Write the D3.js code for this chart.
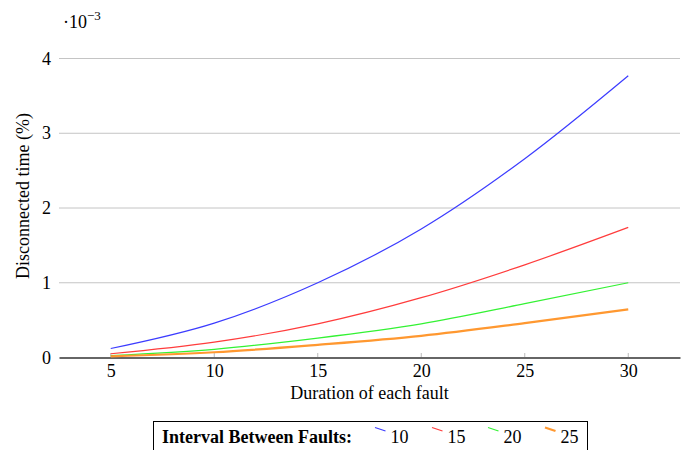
<!DOCTYPE html>
<html><head><meta charset="utf-8">
<script src="https://cdn.jsdelivr.net/npm/d3@7"></script>
<style>body{margin:0;background:#fff}svg{display:block}</style>
</head><body>
<svg id="c" width="692" height="450" font-family="Liberation Serif"></svg>
<script>
const durations = [5, 10, 15, 20, 25, 30];
const interval10 = [0.12, 0.46, 1.00, 1.72, 2.66, 3.77];
const interval15 = [0.05, 0.205, 0.45, 0.80, 1.24, 1.74];
const interval20 = [0.027, 0.11, 0.26, 0.45, 0.72, 1.00];
const interval25 = [0.015, 0.07, 0.17, 0.29, 0.46, 0.645];
const seriesNames = ["10", "15", "20", "25"];
const yTicks = [0, 1, 2, 3, 4];
const xTicks = [5, 10, 15, 20, 25, 30];

const series = [
  {name: seriesNames[0], values: interval10, color: "#3c3cff", w: 1.2},
  {name: seriesNames[1], values: interval15, color: "#ff3c3c", w: 1.2},
  {name: seriesNames[2], values: interval20, color: "#33f233", w: 1.2},
  {name: seriesNames[3], values: interval25, color: "#ff9830", w: 2.2}
];

const FF = "Liberation Serif";
const svg = d3.select("#c");
const x = d3.scaleLinear().domain([2.5, 32.5]).range([59, 680]);
const y = d3.scaleLinear().domain([0, 4]).range([357.5, 58.5]);

// gridlines
svg.append("g").selectAll("line").data(yTicks.filter(d => d > 0)).join("line")
  .attr("x1", 59).attr("x2", 680)
  .attr("y1", d => y(d)).attr("y2", d => y(d))
  .attr("stroke", "#c4c4c4").attr("stroke-width", 1);

// y tick labels
svg.append("g").selectAll("text").data(yTicks).join("text")
  .attr("x", 51).attr("y", d => y(d) + 6)
  .attr("text-anchor", "end").attr("font-size", 18).attr("font-family", FF).text(d => d);

// x axis
const xa = svg.append("g").attr("transform", "translate(0,357.5)")
  .call(d3.axisBottom(x).tickValues(xTicks).tickSize(0).tickPadding(6));
xa.attr("font-family", FF).attr("font-size", 18);
xa.select(".domain").attr("stroke", "#666").attr("stroke-width", 2);
xa.selectAll("text").attr("font-size", 18).attr("font-family", FF).attr("y", 0).attr("dy", 0)
  .attr("transform", "translate(0,19)");
svg.append("g").selectAll("line").data(xTicks).join("line")
  .attr("x1", d => x(d)).attr("x2", d => x(d)).attr("y1", 353).attr("y2", 357)
  .attr("stroke", "#bbb").attr("stroke-width", 1);

// lines
const line = d3.line().x((d, i) => x(durations[i])).y(d => y(d)).curve(d3.curveMonotoneX);
svg.append("g").selectAll("path").data(series).join("path")
  .attr("d", d => line(d.values)).attr("fill", "none")
  .attr("stroke", d => d.color).attr("stroke-width", d => d.w);

// axis titles
svg.append("text").attr("x", 369.5).attr("y", 399).attr("text-anchor", "middle")
  .attr("font-size", 18).attr("font-family", FF).text("Duration of each fault");
svg.append("text").attr("transform", "translate(29,196) rotate(-90)")
  .attr("text-anchor", "middle").attr("font-size", 18).attr("font-family", FF).text("Disconnected time (%)");
const sc = svg.append("text").attr("x", 63).attr("y", 27.5).attr("font-size", 18).attr("font-family", FF);
sc.append("tspan").text("·10");
sc.append("tspan").attr("dy", -8).attr("font-size", 13).text("−3");

// legend
const lg = svg.append("g");
lg.append("rect").attr("x", 153.5).attr("y", 421.5).attr("width", 434).attr("height", 30)
  .attr("fill", "#fff").attr("stroke", "#000").attr("stroke-width", 1);
lg.append("text").attr("x", 162).attr("y", 443).attr("font-size", 18).attr("font-weight", "bold")
  .attr("font-family", FF).text("Interval Between Faults:");
const lx = [375, 432, 488, 545];
series.forEach((s, i) => {
  lg.append("line").attr("x1", lx[i]).attr("y1", 427.5).attr("x2", lx[i] + 10.5).attr("y2", 431)
    .attr("stroke", s.color).attr("stroke-width", s.w);
  lg.append("text").attr("x", lx[i] + 15.5).attr("y", 442.5).attr("font-size", 18)
    .attr("font-family", FF).text(s.name);
});
</script>
</body></html>
